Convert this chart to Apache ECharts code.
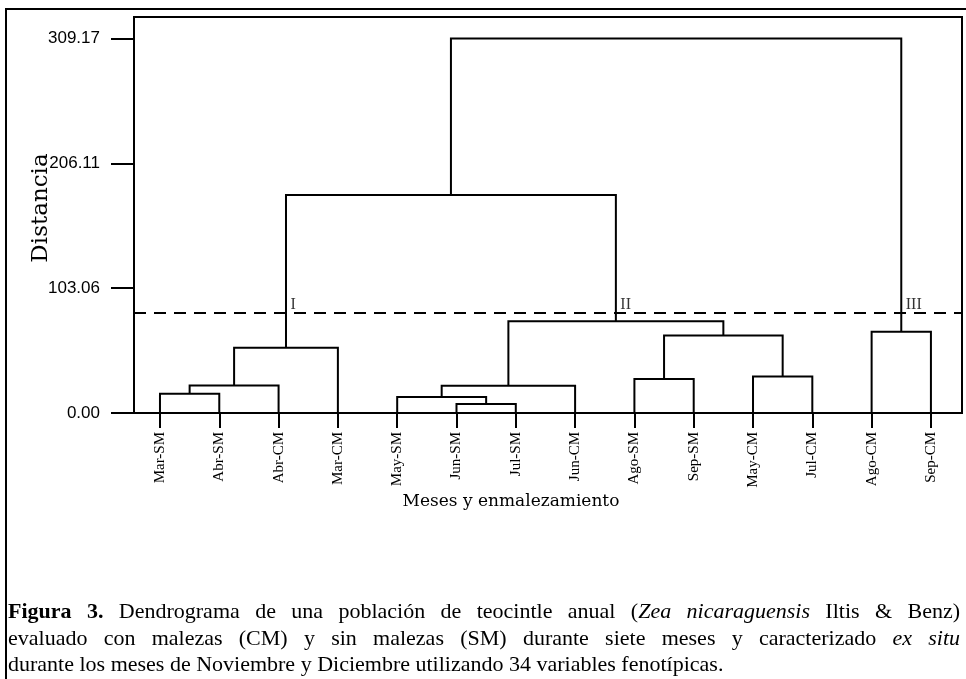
<!DOCTYPE html>
<html>
<head>
<meta charset="utf-8">
<title>Dendrograma</title>
<script src="https://cdn.jsdelivr.net/npm/echarts@6/dist/echarts.min.js"></script>
<style>
html, body { margin: 0; padding: 0; background: #fff; }
#chart { width: 966px; height: 679px; }
</style>
</head>
<body>
<div id="chart"></div>
<script>
// hojas del dendrograma, en el orden del eje
const leaves = ['Mar-SM', 'Abr-SM', 'Abr-CM', 'Mar-CM', 'May-SM', 'Jun-SM', 'Jul-SM',
    'Jun-CM', 'Ago-SM', 'Sep-SM', 'May-CM', 'Jul-CM', 'Ago-CM', 'Sep-CM'];

// uniones: [nodo a, nodo b, distancia]; los nodos >= 14 son uniones previas (14 + k)
const merges = [
    [0, 1, 15.9],      // 14
    [14, 2, 22.8],     // 15
    [15, 3, 53.9],     // 16  grupo I
    [5, 6, 7.4],       // 17
    [4, 17, 13.2],     // 18
    [18, 7, 22.5],     // 19
    [8, 9, 28.0],      // 20
    [10, 11, 30.2],    // 21
    [20, 21, 64.0],    // 22
    [19, 22, 75.7],    // 23  grupo II
    [12, 13, 67.1],    // 24  grupo III
    [16, 23, 180.0],   // 25
    [25, 24, 309.17]   // 26
];

const cutHeight = 83.0;
const yTicks = [0, 103.06, 206.11, 309.17];
const groupNames = ['I', 'II', 'III'];
const groupNodes = [16, 23, 24];

const captionLines = [
    '{b|Figura 3.} Dendrograma de una población de teocintle anual ({i|Zea nicaraguensis} Iltis & Benz)',
    'evaluado con malezas (CM) y sin malezas (SM) durante siete meses y caracterizado {i|ex situ}',
    'durante los meses de Noviembre y Diciembre utilizando 34 variables fenotípicas.'
];
const captionJustify = [true, true, false];

// posicion de cada nodo: hojas en 0..13, uniones en el punto medio de sus hijos
const nodeX = leaves.map((_, i) => i);
const nodeH = leaves.map(() => 0);
merges.forEach(([a, b, h]) => {
    nodeX.push((nodeX[a] + nodeX[b]) / 2);
    nodeH.push(h);
});
const links = merges.map(([a, b, h]) => [nodeX[a], nodeH[a], nodeX[b], nodeH[b], h]);
const groupData = groupNames.map((name, i) => [nodeX[groupNodes[i]], cutHeight, name]);

const serif = 'Liberation Serif';
const capSize = 22;
const capLine = 26.5;
const capWidth = 952;

// texto justificado: cada espacio pasa a ser un token de ancho fijo
const measureCtx = document.createElement('canvas').getContext('2d');
const capRich = {
    b: { fontFamily: serif, fontSize: capSize, fontWeight: 'bold', lineHeight: capLine, fill: '#000' },
    i: { fontFamily: serif, fontSize: capSize, fontStyle: 'italic', lineHeight: capLine, fill: '#000' },
    n: { fontFamily: serif, fontSize: capSize, lineHeight: capLine, fill: '#000' }
};
const captionText = captionLines.map((line, li) => {
    const segs = [];
    line.replace(/\{(\w)\|([^}]*)\}|([^{]+)/g, (m, st, tx, plain) => {
        segs.push(st ? [st, tx] : ['n', plain]);
        return m;
    });
    let textW = 0;
    let gaps = 0;
    const parts = [];
    segs.forEach(([st, tx]) => {
        measureCtx.font = (st === 'i' ? 'italic ' : '') + (st === 'b' ? 'bold ' : '') + capSize + 'px "' + serif + '"';
        tx.split(/( )/).forEach(w => {
            if (w === ' ') { gaps++; parts.push(null); }
            else if (w) { textW += measureCtx.measureText(w).width; parts.push('{' + st + '|' + w + '}'); }
        });
    });
    measureCtx.font = capSize + 'px "' + serif + '"';
    const gapW = captionJustify[li] ? (capWidth - textW) / gaps : measureCtx.measureText(' ').width;
    capRich['s' + li] = { width: gapW, fontFamily: serif, fontSize: capSize, lineHeight: capLine };
    return parts.map(p => p === null ? '{s' + li + '| }' : p).join('');
}).join('\n');

const chart = echarts.init(document.getElementById('chart'));

chart.setOption({
    animation: false,
    backgroundColor: '#fff',
    graphic: [{
        type: 'rect',
        shape: { x: 6, y: 9, width: 1000, height: 700 },
        style: { fill: null, stroke: '#000', lineWidth: 2 },
        silent: true
    }, {
        type: 'text',
        x: 8,
        y: 599,
        silent: true,
        style: {
            text: captionText,
            rich: capRich,
            fontFamily: serif,
            fontSize: capSize,
            lineHeight: capLine,
            fill: '#000'
        }
    }],
    grid: {
        left: 134,
        top: 17,
        right: 4,
        bottom: 266,
        show: true,
        borderColor: '#000',
        borderWidth: 2,
        backgroundColor: 'transparent'
    },
    xAxis: {
        type: 'value',
        min: -0.438,
        max: 13.524,
        name: 'Meses y enmalezamiento',
        nameLocation: 'middle',
        nameGap: 80,
        nameMoveOverlap: false,
        nameTextStyle: {
            fontFamily: 'DejaVu Serif',
            fontSize: 17,
            color: '#000',
            padding: [0, 74, 0, 0]
        },
        axisLine: { onZero: false, lineStyle: { color: '#000', width: 2 } },
        axisTick: {
            customValues: leaves.map((_, i) => i),
            length: 15,
            lineStyle: { color: '#000', width: 2 }
        },
        axisLabel: {
            customValues: leaves.map((_, i) => i),
            formatter: v => leaves[Math.round(v)],
            rotate: 90,
            margin: 19,
            fontFamily: serif,
            fontSize: 15,
            color: '#000'
        },
        splitLine: { show: false }
    },
    yAxis: {
        type: 'value',
        min: 0,
        max: 327,
        name: 'Distancia',
        nameLocation: 'middle',
        nameGap: 81,
        nameMoveOverlap: false,
        nameTextStyle: {
            fontFamily: 'DejaVu Serif',
            fontSize: 23,
            color: '#000',
            padding: [0, 0, 0, 14]
        },
        axisLine: { onZero: false, lineStyle: { color: '#000', width: 2 } },
        axisTick: {
            customValues: yTicks,
            length: 23,
            lineStyle: { color: '#000', width: 2 }
        },
        axisLabel: {
            customValues: yTicks,
            formatter: v => v.toFixed(2),
            margin: 34,
            fontFamily: 'Liberation Sans',
            fontSize: 17,
            color: '#000'
        },
        splitLine: { show: false }
    },
    series: [{
        type: 'custom',
        data: links,
        encode: { x: [0, 2], y: [1, 3, 4] },
        renderItem: (params, api) => {
            const p1 = api.coord([api.value(0), api.value(1)]);
            const p2 = api.coord([api.value(0), api.value(4)]);
            const p3 = api.coord([api.value(2), api.value(4)]);
            const p4 = api.coord([api.value(2), api.value(3)]);
            return {
                type: 'polyline',
                shape: { points: [p1, p2, p3, p4] },
                style: { stroke: '#000', lineWidth: 2, fill: null }
            };
        },
        markLine: {
            silent: true,
            symbol: 'none',
            label: { show: false },
            lineStyle: { color: '#000', width: 2, type: [12, 8] },
            data: [{ yAxis: cutHeight }]
        }
    }, {
        type: 'scatter',
        data: groupData,
        symbolSize: 1,
        itemStyle: { color: 'transparent' },
        label: {
            show: true,
            formatter: p => p.value[2],
            position: [5, -15],
            fontFamily: serif,
            fontSize: 16,
            color: '#000'
        }
    }]
});
</script>
</body>
</html>
